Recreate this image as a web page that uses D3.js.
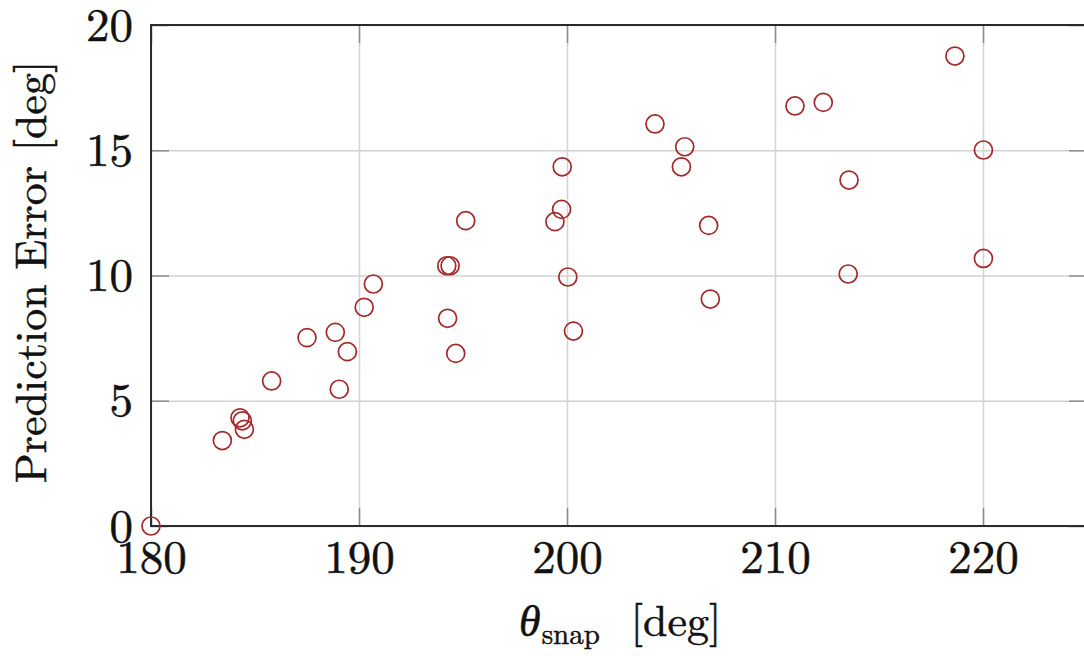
<!DOCTYPE html>
<html lang="en">
<head>
<meta charset="UTF-8">
<title>Prediction Error vs theta snap</title>
<script src="https://d3js.org/d3.v7.min.js"></script>
<style>
  body, html { margin: 0; padding: 0; background: #fff; }
  svg { display: block; }
  .lbl { font-family: "Latin Modern Roman", "Liberation Serif", serif; fill: #111; stroke: #111; stroke-width: 0.5; }
  .grid line { stroke: #d2d2d2; stroke-width: 1.5; }
  .grid path, .ticks path, .labels path { display: none; }
  .ticks line { stroke: #8c8c8c; stroke-width: 1.5; }
  .labels line { display: none; }
</style>
</head>
<body>
<svg id="chart" width="1084" height="656"></svg>
<script>
// theta_snap [deg] and prediction error [deg]
const thetaSnap = [180.0, 183.43, 184.28, 184.39, 184.49, 185.80, 187.50, 188.86, 189.05, 189.44,
  190.25, 190.69, 194.22, 194.38, 194.26, 194.65, 195.13, 199.42, 199.74, 199.77,
  200.04, 200.31, 204.23, 205.50, 205.66, 206.81, 206.89, 210.96, 212.32, 213.56,
  213.52, 218.65, 220.02, 220.02];
const predError = [0.0, 3.41, 4.32, 4.20, 3.86, 5.79, 7.52, 7.73, 5.46, 6.96,
  8.73, 9.66, 10.39, 10.39, 8.29, 6.89, 12.19, 12.15, 12.64, 14.34,
  9.94, 7.78, 16.05, 14.34, 15.14, 12.00, 9.06, 16.77, 16.91, 13.81,
  10.06, 18.76, 15.01, 10.68];
const xTicks = [180, 190, 200, 210, 220];
const yTicks = [0, 5, 10, 15, 20];

const svg = d3.select("#chart");
const mLeft = 151, mRight = 1087, mTop = 25, mBottom = 526;

const x = d3.scaleLinear().domain([180, 225]).range([mLeft, mRight]);
const y = d3.scaleLinear().domain([0, 20]).range([mBottom, mTop]);

// grid
svg.append("g").attr("class", "grid")
  .attr("transform", `translate(0,${mBottom})`)
  .call(d3.axisBottom(x).tickValues(xTicks).tickSize(-(mBottom - mTop)).tickFormat(""));
svg.append("g").attr("class", "grid")
  .attr("transform", `translate(${mLeft},0)`)
  .call(d3.axisLeft(y).tickValues(yTicks).tickSize(-(mRight - mLeft)).tickFormat(""));

// inward ticks on all four sides
svg.append("g").attr("class", "ticks")
  .attr("transform", `translate(0,${mBottom})`)
  .call(d3.axisBottom(x).tickValues(xTicks).tickSize(-18).tickFormat(""));
svg.append("g").attr("class", "ticks")
  .attr("transform", `translate(0,${mTop})`)
  .call(d3.axisTop(x).tickValues(xTicks).tickSize(-18).tickFormat(""));
svg.append("g").attr("class", "ticks")
  .attr("transform", `translate(${mLeft},0)`)
  .call(d3.axisLeft(y).tickValues(yTicks).tickSize(-18).tickFormat(""));
svg.append("g").attr("class", "ticks")
  .attr("transform", `translate(${mRight},0)`)
  .call(d3.axisRight(y).tickValues(yTicks).tickSize(-18).tickFormat(""));

// box
svg.append("rect")
  .attr("x", mLeft).attr("y", mTop)
  .attr("width", mRight - mLeft).attr("height", mBottom - mTop)
  .attr("fill", "none").attr("stroke", "#2b2b2b").attr("stroke-width", 2);

// tick labels
const xl = svg.append("g").attr("class", "labels")
  .attr("transform", `translate(0,${mBottom})`)
  .call(d3.axisBottom(x).tickValues(xTicks).tickSize(0).tickFormat(d3.format("d")));
xl.selectAll("text")
  .attr("class", "lbl").attr("y", 47).attr("dy", 0)
  .attr("font-size", 47);

const yl = svg.append("g").attr("class", "labels")
  .attr("transform", `translate(${mLeft},0)`)
  .call(d3.axisLeft(y).tickValues(yTicks).tickSize(0).tickFormat(d3.format("d")));
yl.selectAll("text")
  .attr("class", "lbl").attr("x", -18).attr("dy", "0.32em")
  .attr("font-size", 47);

// points
svg.append("g")
  .selectAll("circle")
  .data(thetaSnap)
  .join("circle")
  .attr("cx", d => x(d))
  .attr("cy", (d, i) => y(predError[i]))
  .attr("r", 9)
  .attr("fill", "none")
  .attr("stroke", "#a3282a")
  .attr("stroke-width", 1.7);

// axis titles
const xt = svg.append("text").attr("class", "lbl")
  .attr("x", 519).attr("y", 636)
  .attr("font-size", 44);
xt.append("tspan").attr("font-style", "italic").text("θ");
xt.append("tspan").attr("font-size", 29).attr("dy", 8).attr("dx", 1).text("snap");
xt.append("tspan").attr("dy", -8).attr("dx", 31).text("[deg]");

svg.append("text").attr("class", "lbl")
  .attr("text-anchor", "middle")
  .attr("transform", "translate(46,272) rotate(-90)")
  .attr("font-size", 44)
  .text("Prediction Error [deg]");
</script>
</body>
</html>
